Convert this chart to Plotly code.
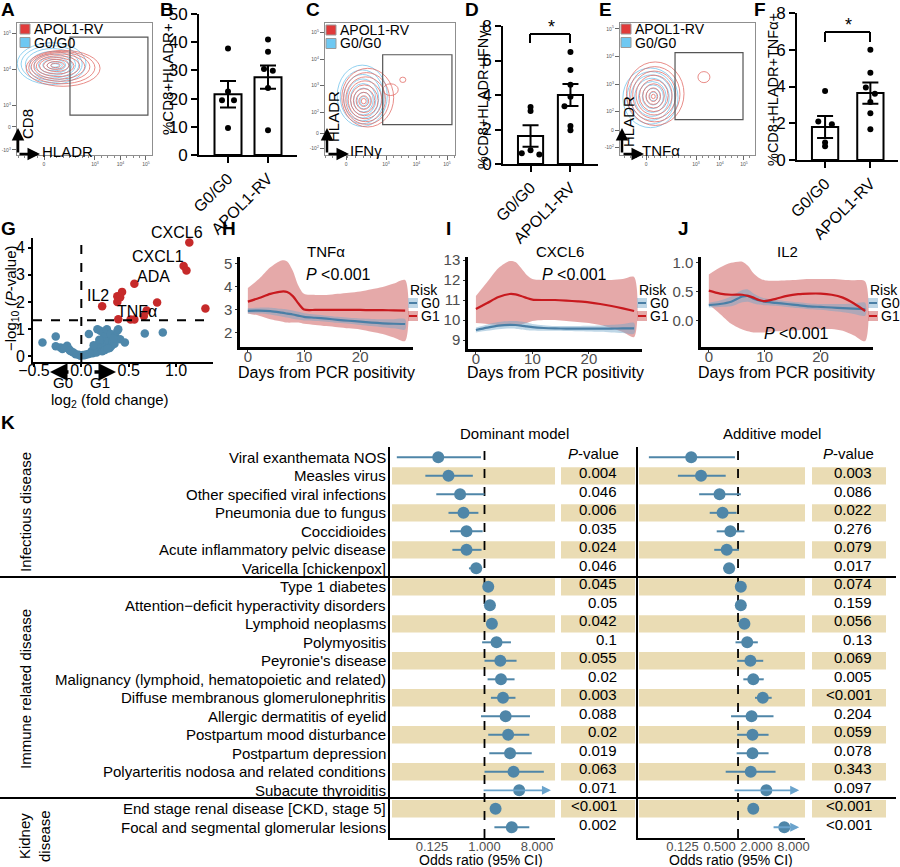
import math
import plotly.graph_objects as go

W, H = 900, 867
FONT = "Arial, Liberation Sans, Helvetica, sans-serif"

# ---------------- data ----------------
GROUPS = ["G0/G0", "APOL1-RV"]

# B: %CD8+HLADR+
B_MEAN = [21.5, 27.6]
B_SEM = [4.7, 4.1]
B_G0 = [37.8, 22.5, 19.4, 19.4, 9.6]
B_G0_JIT = [0.0, 0.0, -0.15, 0.15, 0.0]
B_RV = [41.0, 36.6, 30.5, 29.9, 23.8, 8.8]
B_RV_JIT = [0.0, 0.0, -0.1, 0.12, 0.0, 0.0]

# D: %CD8+HLADR+IFNg+
D_MEAN = [1.62, 4.0]
D_SEM = [0.62, 0.64]
D_G0 = [3.3, 3.07, 0.8, 0.62, 0.55]
D_G0_JIT = [0.0, 0.0, 0.0, -0.22, 0.22]
D_RV = [6.5, 5.45, 4.6, 3.9, 3.35, 2.2, 1.95]
D_RV_JIT = [0.0, 0.0, 0.0, 0.0, -0.15, 0.0, 0.0]

# F: %CD8+HLADR+TNFa+
F_MEAN = [1.8, 3.64]
F_SEM = [0.6, 0.58]
F_G0 = [3.75, 2.1, 1.95, 0.95, 0.75]
F_G0_JIT = [0.0, -0.15, 0.15, 0.0, 0.0]
F_RV = [6.0, 4.75, 3.95, 3.6, 3.15, 2.55, 1.68]
F_RV_JIT = [0.0, 0.0, -0.1, 0.1, 0.0, 0.0, 0.0]

# flow contour rings (axis units = decades)
A_RED_CX = [1.75, 1.70, 1.65, 1.60, 1.55, 1.50, 1.48, 1.46, 1.45]
A_RED_CY = [4.02, 4.04, 4.06, 4.07, 4.08, 4.09, 4.10, 4.10, 4.10]
A_RED_RX = [1.45, 1.30, 1.15, 1.00, 0.85, 0.68, 0.50, 0.34, 0.18]
A_RED_RY = [0.50, 0.45, 0.40, 0.35, 0.29, 0.23, 0.17, 0.11, 0.06]
A_BLUE_CX = [1.30, 1.30, 1.32, 1.34, 1.36, 1.38, 1.40, 1.42, 1.43]
A_BLUE_CY = [4.15, 4.14, 4.13, 4.12, 4.12, 4.11, 4.11, 4.10, 4.10]
A_BLUE_RX = [1.35, 1.20, 1.05, 0.90, 0.75, 0.60, 0.45, 0.30, 0.16]
A_BLUE_RY = [0.58, 0.51, 0.44, 0.37, 0.30, 0.23, 0.16, 0.10, 0.05]

C_RED_CX = [2.40, 2.36, 2.33, 2.31, 2.29, 2.28, 2.27, 2.27, 2.27, 3.15, 3.55]
C_RED_CY = [2.55, 2.52, 2.49, 2.47, 2.45, 2.44, 2.43, 2.42, 2.42, 2.85, 3.22]
C_RED_RX = [0.85, 0.75, 0.65, 0.55, 0.45, 0.35, 0.25, 0.16, 0.08, 0.25, 0.10]
C_RED_RY = [1.10, 0.97, 0.84, 0.71, 0.58, 0.45, 0.32, 0.20, 0.10, 0.22, 0.10]
C_BLUE_CX = [2.22, 2.22, 2.23, 2.24, 2.25, 2.26, 2.27, 2.27]
C_BLUE_CY = [2.62, 2.58, 2.55, 2.52, 2.49, 2.46, 2.44, 2.42]
C_BLUE_RX = [0.82, 0.72, 0.62, 0.52, 0.42, 0.32, 0.22, 0.12]
C_BLUE_RY = [1.15, 1.01, 0.87, 0.73, 0.59, 0.45, 0.31, 0.17]

E_RED_CX = [1.30, 1.28, 1.26, 1.25, 1.24, 1.23, 1.22, 1.22, 1.22, 3.33]
E_RED_CY = [2.65, 2.63, 2.61, 2.60, 2.58, 2.57, 2.56, 2.55, 2.55, 3.25]
E_RED_RX = [1.20, 1.05, 0.90, 0.75, 0.60, 0.45, 0.30, 0.18, 0.08, 0.25]
E_RED_RY = [1.15, 1.00, 0.86, 0.72, 0.58, 0.44, 0.30, 0.18, 0.08, 0.20]
E_BLUE_CX = [1.10, 1.12, 1.14, 1.16, 1.18, 1.20, 1.21, 1.22]
E_BLUE_CY = [2.50, 2.50, 2.51, 2.52, 2.53, 2.54, 2.54, 2.55]
E_BLUE_RX = [1.15, 1.00, 0.86, 0.72, 0.58, 0.44, 0.30, 0.15]
E_BLUE_RY = [1.08, 0.95, 0.82, 0.69, 0.56, 0.43, 0.30, 0.16]

# G: volcano
SIG_FC = [1.14, 1.08, 1.11, 0.56, 0.22, 0.38, 0.41, 0.43, 0.38, 0.80, 0.69, 0.66, 0.39, 0.52, 0.56, 1.31]
SIG_P = [4.19, 3.33, 3.16, 2.67, 1.84, 2.21, 2.17, 2.37, 2.00, 1.98, 1.68, 1.48, 1.36, 1.35, 1.35, 1.76]
NS_FC = [-0.41, -0.27, -0.27, -0.22, -0.20, -0.15, -0.13, -0.10, -0.06, -0.03, -0.01, 0.02,
         0.05, 0.07, 0.08, 0.11, 0.12, 0.15, 0.16, 0.17, 0.18, 0.20, 0.21, 0.22, 0.22, 0.23,
         0.24, 0.25, 0.26, 0.27, 0.28, 0.29, 0.30, 0.31, 0.32, 0.33, 0.35, 0.36, 0.38, 0.39,
         0.41, 0.46, 0.67, 0.86, -0.18, -0.08, 0.09, 0.13, 0.19, 0.25, 0.28, 0.34, -0.12, 0.03]
NS_P = [0.50, 0.72, 0.36, 0.32, 0.26, 0.38, 0.26, 0.16, 0.07, 0.05, 0.01, 0.04,
        0.06, 0.07, 0.81, 0.19, 0.10, 0.28, 0.13, 0.99, 0.44, 0.93, 0.30, 0.62, 0.18, 0.87,
        0.50, 0.72, 0.35, 0.99, 0.45, 0.56, 0.30, 0.81, 0.38, 0.55, 0.45, 0.72, 0.93, 0.99,
        0.62, 0.50, 0.83, 0.87, 0.30, 0.12, 0.09, 0.40, 0.60, 0.22, 0.28, 0.65, 0.20, 0.03]

# H-J: smoothed trajectories
DAYS = [0, 2, 4, 6, 7, 8, 9, 10, 12, 14, 16, 18, 20, 22, 24, 26, 28]
TNF_G1 = [3.36, 3.52, 3.70, 3.80, 3.78, 3.60, 3.28, 3.02, 3.00, 3.00, 3.00, 3.00, 3.00, 2.99, 2.99, 2.98, 2.97]
TNF_G1_HI = [3.95, 4.35, 4.85, 5.15, 5.10, 4.70, 4.05, 3.70, 3.65, 3.65, 3.70, 3.75, 3.80, 3.90, 4.00, 4.15, 4.30]
TNF_G1_LO = [2.85, 2.75, 2.60, 2.50, 2.45, 2.45, 2.45, 2.40, 2.35, 2.30, 2.25, 2.20, 2.15, 2.05, 1.95, 1.80, 1.65]
TNF_G0 = [2.96, 2.97, 2.95, 2.88, 2.84, 2.80, 2.75, 2.70, 2.66, 2.62, 2.57, 2.53, 2.49, 2.45, 2.42, 2.40, 2.39]
TNF_G0_HI = [3.08, 3.10, 3.10, 3.05, 3.02, 2.98, 2.92, 2.86, 2.80, 2.75, 2.70, 2.66, 2.63, 2.61, 2.60, 2.60, 2.60]
TNF_G0_LO = [2.84, 2.84, 2.80, 2.72, 2.67, 2.62, 2.58, 2.54, 2.52, 2.49, 2.44, 2.40, 2.35, 2.30, 2.25, 2.20, 2.15]

CX6_G1 = [10.55, 10.85, 11.15, 11.30, 11.28, 11.20, 11.10, 11.02, 11.00, 11.00, 10.97, 10.93, 10.88, 10.80, 10.70, 10.58, 10.45]
CX6_G1_HI = [11.20, 11.90, 12.60, 12.95, 12.90, 12.60, 12.25, 12.05, 12.00, 12.00, 12.00, 12.00, 12.00, 12.00, 12.00, 12.05, 12.15]
CX6_G1_LO = [9.85, 9.80, 9.75, 9.70, 9.72, 9.78, 9.85, 9.95, 10.00, 10.00, 9.95, 9.90, 9.85, 9.75, 9.60, 9.40, 9.15]
CX6_G0 = [9.50, 9.62, 9.72, 9.76, 9.75, 9.72, 9.68, 9.64, 9.60, 9.58, 9.57, 9.57, 9.57, 9.57, 9.57, 9.58, 9.58]
CX6_G0_HI = [9.62, 9.78, 9.90, 9.95, 9.95, 9.92, 9.87, 9.80, 9.74, 9.70, 9.70, 9.70, 9.71, 9.73, 9.76, 9.80, 9.85]
CX6_G0_LO = [9.38, 9.46, 9.54, 9.57, 9.56, 9.52, 9.49, 9.47, 9.46, 9.46, 9.45, 9.44, 9.43, 9.41, 9.38, 9.35, 9.32]

IL2_G1 = [0.52, 0.47, 0.45, 0.45, 0.43, 0.40, 0.36, 0.34, 0.38, 0.43, 0.46, 0.47, 0.47, 0.45, 0.40, 0.30, 0.17]
IL2_G1_HI = [0.80, 0.92, 1.00, 1.02, 0.95, 0.82, 0.74, 0.70, 0.69, 0.70, 0.71, 0.72, 0.72, 0.72, 0.71, 0.70, 0.68]
IL2_G1_LO = [0.28, 0.12, -0.05, -0.15, -0.18, -0.20, -0.20, -0.20, -0.18, -0.17, -0.16, -0.15, -0.14, -0.14, -0.17, -0.25, -0.35]
IL2_G0 = [0.27, 0.29, 0.33, 0.42, 0.43, 0.38, 0.35, 0.33, 0.31, 0.29, 0.27, 0.25, 0.24, 0.23, 0.22, 0.21, 0.20]
IL2_G0_HI = [0.31, 0.35, 0.42, 0.53, 0.54, 0.47, 0.42, 0.39, 0.36, 0.34, 0.32, 0.30, 0.29, 0.29, 0.29, 0.30, 0.31]
IL2_G0_LO = [0.23, 0.24, 0.25, 0.32, 0.33, 0.30, 0.28, 0.27, 0.26, 0.24, 0.22, 0.20, 0.19, 0.17, 0.15, 0.12, 0.09]

# K: forest plot
ROW_LABELS = [
    "Viral exanthemata NOS", "Measles virus", "Other specified viral infections",
    "Pneumonia due to fungus", "Coccidioides", "Acute inflammatory pelvic disease",
    "Varicella [chickenpox]", "Type 1 diabetes", "Attention\u2212deficit hyperactivity disorders",
    "Lymphoid neoplasms", "Polymyositis", "Peyronie's disease",
    "Malignancy (lymphoid, hematopoietic and related)", "Diffuse membranous glomerulonephritis",
    "Allergic dermatitis of eyelid", "Postpartum mood disturbance", "Postpartum depression",
    "Polyarteritis nodosa and related conditions", "Subacute thyroiditis",
    "End stage renal disease [CKD, stage 5]", "Focal and segmental glomerular lesions",
]
DOM_OR = [0.16, 0.24, 0.38, 0.435, 0.49, 0.49, 0.72, 1.16, 1.24, 1.34, 1.61, 1.87, 1.92, 2.08,
          2.31, 2.55, 2.75, 3.16, 3.95, 1.55, 2.95]
DOM_LO = [0.031, 0.096, 0.148, 0.24, 0.255, 0.28, 0.54, 1.0, 1.04, 1.07, 0.91, 1.0, 1.13, 1.29,
          0.87, 1.16, 1.21, 1.0, 0.91, 1.45, 1.48]
DOM_HI = [0.87, 0.63, 1.0, 0.785, 0.93, 0.89, 0.87, 1.27, 1.41, 1.52, 2.85, 3.56, 3.29, 3.41,
          6.06, 5.9, 6.5, 10.5, 13.9, 1.65, 5.9]
DOM_ARROW = [18]
DOM_P = ["", "0.004", "0.046", "0.006", "0.035", "0.024", "0.046", "0.045", "0.05", "0.042",
         "0.1", "0.055", "0.02", "0.003", "0.088", "0.02", "0.019", "0.063", "0.071", "<0.001", "0.002"]
ADD_OR = [0.173, 0.25, 0.50, 0.56, 0.75, 0.655, 0.717, 1.11, 1.11, 1.27, 1.41, 1.59, 1.77, 2.53,
          1.66, 1.72, 1.72, 1.61, 2.89, 1.77, 5.66]
ADD_LO = [0.0354, 0.105, 0.233, 0.346, 0.45, 0.41, 0.574, 1.0, 1.02, 1.07, 0.91, 0.97, 1.22, 1.89,
          0.77, 0.97, 0.95, 0.63, 0.83, 1.65, 3.58]
ADD_HI = [0.89, 0.63, 1.11, 0.946, 1.27, 1.035, 0.853, 1.23, 1.2, 1.41, 2.1, 2.57, 2.62, 3.53,
          3.78, 3.14, 3.14, 4.08, 9.9, 1.9, 9.9]
ADD_ARROW = [18, 20]
ADD_P = ["", "0.003", "0.086", "0.022", "0.276", "0.079", "0.017", "0.074", "0.159", "0.056",
         "0.13", "0.069", "0.005", "<0.001", "0.204", "0.059", "0.078", "0.343", "0.097", "<0.001", "<0.001"]

# ---------------- colours ----------------
RED_FLOW = "#e26a64"
BLUE_FLOW = "#72c4ec"
RED_PT = "#c62a2a"
BLUE_PT = "#4e87aa"
RED_LINE = "#c8191e"
RED_BAND = "rgba(200,75,75,0.48)"
BLUE_LINE = "#4a7fa6"
BLUE_BAND = "rgba(110,165,200,0.45)"
TAN = "#eadcb4"
FOREST = "#4f86a8"
ARROW_BLUE = "#6aa3cc"

fig = go.Figure()
shapes = []
annotations = []
layout_axes = {}


def dx(a, b):
    return [a / W, b / W]


def dy(top, bottom):
    return [1 - bottom / H, 1 - top / H]


def px(x):
    return x / W


def py(y):
    return 1 - y / H


def text(t, x, y, size=14, color="black", angle=0, xanchor="center", yanchor="middle",
         xref="paper", yref="paper", bold=False):
    if xref == "paper":
        x = px(x)
    if yref == "paper":
        y = py(y)
    if bold:
        t = "<b>" + t + "</b>"
    annotations.append(dict(text=t, x=x, y=y, xref=xref, yref=yref, showarrow=False,
                            textangle=angle, xanchor=xanchor, yanchor=yanchor,
                            font=dict(size=size, color=color, family=FONT)))


def arrow(x_head, y_head, ox, oy, width=2.5, color="black"):
    annotations.append(dict(text="", x=px(x_head), y=py(y_head), xref="paper", yref="paper",
                            ax=ox, ay=oy, showarrow=True, arrowhead=2, arrowsize=1,
                            arrowwidth=width, arrowcolor=color))


def line_px(x0, y0, x1, y1, width=2, color="black"):
    shapes.append(dict(type="line", xref="paper", yref="paper", x0=px(x0), y0=py(y0),
                       x1=px(x1), y1=py(y1), line=dict(color=color, width=width)))


def axname(n):
    return ("xaxis" if n == 1 else f"xaxis{n}"), ("yaxis" if n == 1 else f"yaxis{n}")


def refs(n):
    return ("x" if n == 1 else f"x{n}"), ("y" if n == 1 else f"y{n}")


# ---------------- flow panels (A, C, E) ----------------
def flow_panel(n, xdom, ydom, xr, yr, xtv, xtt, ytv, ytt, gate, rings_red, rings_blue,
               leg_x, leg_y, ylab, ylab_pos, xlab, xlab_pos, corner):
    xa, ya = axname(n)
    xref, yref = refs(n)
    tick = dict(showgrid=False, zeroline=False, showline=True, mirror=True, linecolor="#8f8f8f",
                linewidth=1.3, ticks="outside", ticklen=4, tickwidth=0.8, tickcolor="#666",
                automargin=False, tickfont=dict(size=5, color="#555", family=FONT))
    layout_axes[xa] = dict(domain=xdom, range=xr, tickvals=xtv, ticktext=xtt, anchor=yref,
                           minor=dict(ticks="outside", ticklen=2, tickcolor="#888", dtick=0.25),
                           **tick)
    layout_axes[ya] = dict(domain=ydom, range=yr, tickvals=ytv, ticktext=ytt, anchor=xref, **tick)
    fig.add_trace(go.Scatter(x=[xr[0]], y=[yr[0]], mode="markers", marker=dict(opacity=0),
                             xaxis=xref, yaxis=yref, hoverinfo="skip"))
    for (cx, cy, rx, ry), col in ((rings_blue, BLUE_FLOW), (rings_red, RED_FLOW)):
        for i in range(len(cx)):
            shapes.append(dict(type="circle", xref=xref, yref=yref,
                               x0=cx[i] - rx[i], x1=cx[i] + rx[i], y0=cy[i] - ry[i], y1=cy[i] + ry[i],
                               line=dict(color=col, width=0.9), opacity=0.85))
    shapes.append(dict(type="rect", xref=xref, yref=yref, x0=gate[0], x1=gate[1], y0=gate[2],
                       y1=gate[3], line=dict(color="#555", width=1.2)))
    # legend swatches
    for k, (col, lab) in enumerate(((RED_FLOW, "APOL1-RV"), (BLUE_FLOW, "G0/G0"))):
        y0 = leg_y + k * 13.5
        shapes.append(dict(type="rect", xref="paper", yref="paper", x0=px(leg_x), x1=px(leg_x + 10),
                           y0=py(y0 + 10), y1=py(y0), fillcolor=("#e03a3a" if k == 0 else "#6ec8f2"),
                           line=dict(color="#9a9a9a", width=1)))
        text(lab, leg_x + 12, y0 + 5, size=14, xanchor="left")
    text(ylab, ylab_pos[0], ylab_pos[1], size=15, angle=-90)
    text(xlab, xlab_pos[0], xlab_pos[1], size=15, xanchor="left")
    arrow(corner[0] + 22, corner[1], -22, 0)
    arrow(corner[0], corner[1] - 26, 0, 26)


flow_panel(1, dx(17, 152), dy(23, 155), [-0.06, 5.24], [1.61, 5.28],
           [1.0, 3, 4, 5], ["0", "10<sup>3</sup>", "10<sup>4</sup>", "10<sup>5</sup>"],
           [1.75, 2.39, 3, 4, 5], ["-10<sup>3</sup>", "0", "10<sup>3</sup>", "10<sup>4</sup>", "10<sup>5</sup>"],
           [2.02, 5.08, 2.72, 4.89],
           (A_RED_CX, A_RED_CY, A_RED_RX, A_RED_RY), (A_BLUE_CX, A_BLUE_CY, A_BLUE_RX, A_BLUE_RY),
           20, 24, "CD8", (27, 124), "HLADR", (40, 151), (18, 154))
flow_panel(3, dx(325, 455), dy(23, 155), [1.0, 5.26], [0.4, 5.35],
           [1.69, 3, 4, 5], ["0", "10<sup>3</sup>", "10<sup>4</sup>", "10<sup>5</sup>"],
           [0.65, 1.2, 2, 3, 4, 5], ["-10<sup>2</sup>", "0", "10<sup>2</sup>", "10<sup>3</sup>", "10<sup>4</sup>", "10<sup>5</sup>"],
           [2.89, 5.16, 1.54, 4.16],
           (C_RED_CX, C_RED_CY, C_RED_RX, C_RED_RY), (C_BLUE_CX, C_BLUE_CY, C_BLUE_RX, C_BLUE_RY),
           326, 25, "HLADR", (333, 117), "IFN\u03b3", (348, 150), (327, 154))
flow_panel(5, dx(620, 755), dy(23, 155), [-0.17, 5.46], [0.43, 5.21],
           [0.92, 3, 4, 5], ["0", "10<sup>3</sup>", "10<sup>4</sup>", "10<sup>5</sup>"],
           [0.7, 1.32, 2, 3, 4, 5], ["-10<sup>2</sup>", "0", "10<sup>2</sup>", "10<sup>3</sup>", "10<sup>4</sup>", "10<sup>5</sup>"],
           [2.125, 4.96, 1.71, 4.14],
           (E_RED_CX, E_RED_CY, E_RED_RX, E_RED_RY), (E_BLUE_CX, E_BLUE_CY, E_BLUE_RX, E_BLUE_RY),
           621, 24, "HLADR", (628, 122), "TNF\u03b1", (640, 150), (622, 154))


# ---------------- bar panels (B, D, F) ----------------
def bar_panel(n, xdom, ydom, xr, yr, ytv, means, sems, g0, g0j, rv, rvj, width, title, title_pos, tsize):
    xa, ya = axname(n)
    xref, yref = refs(n)
    fig.add_trace(go.Bar(x=[0, 1], y=means, width=width, xaxis=xref, yaxis=yref,
                         marker=dict(color="white", line=dict(color="black", width=2)),
                         error_y=dict(type="data", array=sems, color="black", thickness=2, width=8)))
    fig.add_trace(go.Scatter(x=[j for j in g0j], y=g0, mode="markers", xaxis=xref, yaxis=yref,
                             marker=dict(color="black", size=6)))
    fig.add_trace(go.Scatter(x=[1 + j for j in rvj], y=rv, mode="markers", xaxis=xref, yaxis=yref,
                             marker=dict(color="black", size=6)))
    common = dict(showgrid=False, zeroline=False, showline=True, linecolor="black", linewidth=2,
                  ticks="outside", tickcolor="black", tickwidth=2, ticklen=6, automargin=False)
    layout_axes[xa] = dict(domain=xdom, range=xr, tickvals=[0, 1], ticktext=GROUPS, tickangle=-45,
                           anchor=yref, tickfont=dict(size=16, color="black", family=FONT), **common)
    layout_axes[ya] = dict(domain=ydom, range=yr, tickvals=ytv, anchor=xref,
                           tickfont=dict(size=17, color="black", family=FONT), **common)
    text(title, title_pos[0], title_pos[1], size=tsize, angle=-90)


bar_panel(2, dx(199, 297), dy(14, 155), [-0.725, 1.725], [0, 50], [0, 10, 20, 30, 40, 50],
          B_MEAN, B_SEM, B_G0, B_G0_JIT, B_RV, B_RV_JIT, 0.675, "%CD8+HLADR+", (168, 79), 15)
bar_panel(4, dx(503, 598), dy(26, 164), [-0.69, 1.69], [0, 8], [0, 2, 4, 6, 8],
          D_MEAN, D_SEM, D_G0, D_G0_JIT, D_RV, D_RV_JIT, 0.63, "%CD8+HLADR+IFN\u03b3+", (483, 95), 14.5)
bar_panel(6, dx(797, 898), dy(13, 160), [-0.62, 1.61], [0, 8], [0, 2, 4, 6, 8],
          F_MEAN, F_SEM, F_G0, F_G0_JIT, F_RV, F_RV_JIT, 0.58, "%CD8+HLADR+TNF\u03b1+", (773, 90), 14.5)

# significance brackets
for x0, x1, ytop, ybot, sx in ((530, 570, 34, 43, 551), (825, 870, 32, 42, 848)):
    line_px(x0, ybot, x0, ytop)
    line_px(x0, ytop, x1, ytop)
    line_px(x1, ytop, x1, ybot)
    text("*", sx, ytop - 7, size=18)

# ---------------- G volcano ----------------
fig.add_trace(go.Scatter(x=NS_FC, y=NS_P, mode="markers", xaxis="x7", yaxis="y7",
                         marker=dict(color=BLUE_PT, size=8.5)))
fig.add_trace(go.Scatter(x=SIG_FC, y=SIG_P, mode="markers", xaxis="x7", yaxis="y7",
                         marker=dict(color=RED_PT, size=8.5)))
g_common = dict(showgrid=False, zeroline=False, showline=True, linecolor="black", linewidth=2,
                ticks="outside", tickcolor="black", tickwidth=1.5, ticklen=3, automargin=False,
                tickfont=dict(size=16, color="black", family=FONT))
layout_axes["xaxis7"] = dict(domain=dx(33, 213), range=[-0.51, 1.39], tickvals=[-0.5, 0, 0.5, 1.0],
                             ticktext=["\u22120.5", "0.0", "0.5", "1.0"], anchor="y7",
                             ticklabelstandoff=-10, **g_common)
layout_axes["yaxis7"] = dict(domain=dy(238, 362), range=[-0.22, 4.36], tickvals=[0, 1, 2, 3, 4],
                             anchor="x7", **g_common)
shapes.append(dict(type="line", xref="x7", yref="y7", x0=-0.51, x1=1.39, y0=1.32, y1=1.32,
                   line=dict(color="black", width=2, dash="dash")))
shapes.append(dict(type="line", xref="x7", yref="y7", x0=0, x1=0, y0=-0.22, y1=4.3,
                   line=dict(color="black", width=2, dash="dash")))
for lab, x, y in (("CXCL6", 177, 233), ("CXCL1", 158, 257), ("ADA", 153, 277), ("IL2", 98, 295),
                  ("TNF\u03b1", 137, 312)):
    text(lab, x, y, size=16)
text("\u2212log<sub>10</sub> (<i>P</i>-value)", 11, 298, size=15, angle=-90)
text("log<sub>2</sub> (fold change)", 110, 400, size=15)
text("G0", 63, 383, size=15)
text("G1", 100, 383, size=15)
arrow(50, 372, 20, 0, width=3.5)
arrow(116, 372, -23, 0, width=3.5)


# ---------------- H, I, J trajectories ----------------
def traj_panel(n, xdom, ydom, yr, ytv, yttext, g0, g0lo, g0hi, g1, g1lo, g1hi, title, tpos, ppos, legx):
    xa, ya = axname(n)
    xref, yref = refs(n)
    for lo, hi, col in ((g1lo, g1hi, RED_BAND), (g0lo, g0hi, BLUE_BAND)):
        fig.add_trace(go.Scatter(x=DAYS + DAYS[::-1], y=hi + lo[::-1], fill="toself", fillcolor=col,
                                 mode="lines", line=dict(width=0, shape="spline", smoothing=0.8),
                                 xaxis=xref, yaxis=yref, hoverinfo="skip"))
    for m, col in ((g0, BLUE_LINE), (g1, RED_LINE)):
        fig.add_trace(go.Scatter(x=DAYS, y=m, mode="lines", xaxis=xref, yaxis=yref,
                                 line=dict(color=col, width=2.2, shape="spline", smoothing=0.8)))
    common = dict(showgrid=False, zeroline=False, showline=True, linecolor="black", linewidth=2.5,
                  ticks="outside", tickcolor="#333", tickwidth=1.2, ticklen=2, automargin=False,
                  tickfont=dict(size=15, color="#4d4d4d", family=FONT))
    layout_axes[xa] = dict(domain=xdom, range=[-1.4, 29.4], tickvals=[0, 10, 20], anchor=yref,
                           ticklabelstandoff=-8, **common)
    layout_axes[ya] = dict(domain=ydom, range=yr, tickvals=ytv, ticktext=yttext, anchor=xref, **common)
    text(title, tpos[0], tpos[1], size=15)
    text("<i>P</i> <0.001", ppos[0], ppos[1], size=16)
    text("Days from PCR positivity", (xdom[0] + xdom[1]) / 2 * W, 372, size=16)
    text("Risk", legx, 290, size=14, xanchor="left")
    for k, (band, col, lab) in enumerate(((BLUE_BAND, BLUE_LINE, "G0"), (RED_BAND, RED_LINE, "G1"))):
        yc = 303 + k * 13
        shapes.append(dict(type="rect", xref="paper", yref="paper", x0=px(legx), x1=px(legx + 10),
                           y0=py(yc + 5), y1=py(yc - 5), fillcolor=band, line=dict(width=0)))
        line_px(legx + 1, yc, legx + 9, yc, width=2, color=col)
        text(lab, legx + 11, yc, size=14, xanchor="left")


traj_panel(8, dx(240, 413), dy(257, 347), [1.39, 5.3], [2, 3, 4, 5], ["2", "3", "4", "5"],
           TNF_G0, TNF_G0_LO, TNF_G0_HI, TNF_G1, TNF_G1_LO, TNF_G1_HI,
           "TNF\u03b1", (326, 251), (338, 274), 408)
traj_panel(9, dx(468, 642), dy(257, 349), [8.55, 13.15], [9, 10, 11, 12, 13],
           ["9", "10", "11", "12", "13"],
           CX6_G0, CX6_G0_LO, CX6_G0_HI, CX6_G1, CX6_G1_LO, CX6_G1_HI,
           "CXCL6", (560, 251), (574, 274), 637)
traj_panel(10, dx(701, 873), dy(257, 347), [-0.45, 1.10], [0, 0.5, 1.0], ["0.0", "0.5", "1.0"],
           IL2_G0, IL2_G0_LO, IL2_G0_HI, IL2_G1, IL2_G1_LO, IL2_G1_HI,
           "IL2", (787, 251), (796, 333), 868)

# ---------------- K forest ----------------
ROWS = list(range(len(ROW_LABELS)))
K_YR = [20.58, -0.56]


def forest(n, xdom, xr, tickvals, ticktext, ors, los, his, arrows, title, title_x, xlab_x):
    xa, ya = axname(n)
    xref, yref = refs(n)
    fig.add_trace(go.Scatter(x=[1, 1], y=K_YR, mode="lines", xaxis=xref, yaxis=yref,
                             line=dict(color="black", width=1.8, dash="dash")))
    cx, cy = [], []
    for r in ROWS:
        if r in arrows:
            continue
        cx += [los[r], his[r], None]
        cy += [r, r, None]
    fig.add_trace(go.Scatter(x=cx, y=cy, mode="lines", xaxis=xref, yaxis=yref,
                             line=dict(color=FOREST, width=2)))
    for r in arrows:
        annotations.append(dict(text="", x=math.log10(his[r]), y=r, ax=math.log10(los[r]), ay=r,
                                xref=xref, yref=yref, axref=xref, ayref=yref, showarrow=True,
                                arrowhead=2, arrowsize=1, arrowwidth=1.8, arrowcolor=ARROW_BLUE))
    fig.add_trace(go.Scatter(x=ors, y=ROWS, mode="markers", xaxis=xref, yaxis=yref,
                             marker=dict(color=FOREST, size=12)))
    layout_axes[xa] = dict(domain=xdom, type="log", range=xr, tickvals=tickvals, ticktext=ticktext,
                           showgrid=False, zeroline=False, showline=True, linecolor="black",
                           linewidth=2, ticks="", anchor=yref, automargin=False, tickangle=0,
                           ticklabelstandoff=-5,
                           tickfont=dict(size=13, color="#4d4d4d", family=FONT))
    layout_axes[ya] = dict(domain=dy(447, 838), range=K_YR, showgrid=False, zeroline=False,
                           showline=True, linecolor="black", linewidth=2, ticks="",
                           showticklabels=False, anchor=xref, automargin=False)
    text(title, title_x, 433, size=15)
    text("Odds ratio (95% CI)", xlab_x, 860, size=14)


# tan row bands
for r in ROWS:
    if r % 2 == 1:
        for x0, x1 in ((392, 555), (561, 635), (639, 805), (812, 886)):
            shapes.append(dict(type="rect", xref="paper", yref="y11", x0=px(x0), x1=px(x1),
                               y0=r - 0.47, y1=r + 0.47, fillcolor=TAN, line=dict(width=0),
                               layer="below"))

forest(11, dx(390, 555), [-1.626, 1.213], [0.125, 1, 8], ["0.125", "1.000", "8.000"],
       DOM_OR, DOM_LO, DOM_HI, DOM_ARROW, "Dominant model", 514, 481)
forest(12, dx(638, 805), [-1.628, 1.09], [0.125, 0.5, 2, 8], ["0.125", "0.500", "2.000", "8.000"],
       ADD_OR, ADD_LO, ADD_HI, ADD_ARROW, "Additive model", 772, 731)

for r in ROWS:
    text(ROW_LABELS[r], 0, r, size=15, xanchor="right", xref="paper", yref="y11")
    annotations[-1]["x"] = 388 / W
    if DOM_P[r]:
        text(DOM_P[r], 0, r - 0.17, size=15, xanchor="right", xref="paper", yref="y11")
        annotations[-1]["x"] = 619 / W
    if ADD_P[r]:
        text(ADD_P[r], 0, r - 0.17, size=15, xanchor="right", xref="paper", yref="y11")
        annotations[-1]["x"] = 874 / W
for xr_ in (621, 876):
    text("<i>P</i>-value", 0, -0.2, size=15, xanchor="right", xref="paper", yref="y11")
    annotations[-1]["x"] = xr_ / W

line_px(0, 577, 896, 577, width=2)
line_px(0, 798, 896, 798, width=2)
text("Infectious disease", 25, 512, size=15, angle=-90)
text("Immune related disease", 25, 689, size=15, angle=-90)
text("Kidney<br>disease", 34, 836, size=15, angle=-90)

# panel letters
for lab, x, y in (("A", 8, 10), ("B", 167, 10), ("C", 313, 10), ("D", 472, 10), ("E", 605, 10),
                  ("F", 760, 10), ("G", 8, 229), ("H", 229, 229), ("I", 448, 229), ("J", 683, 229),
                  ("K", 8, 422)):
    text(lab, x, y, size=19, bold=True)

fig.update_layout(template="none", width=W, height=H, margin=dict(l=0, r=0, t=0, b=0, autoexpand=False),
                  showlegend=False, plot_bgcolor="white", paper_bgcolor="white",
                  font=dict(family=FONT, color="black"), shapes=shapes, annotations=annotations,
                  **layout_axes)
fig.write_html("out.html", config={"displayModeBar": False},
               post_script="document.body.style.margin='0';")
